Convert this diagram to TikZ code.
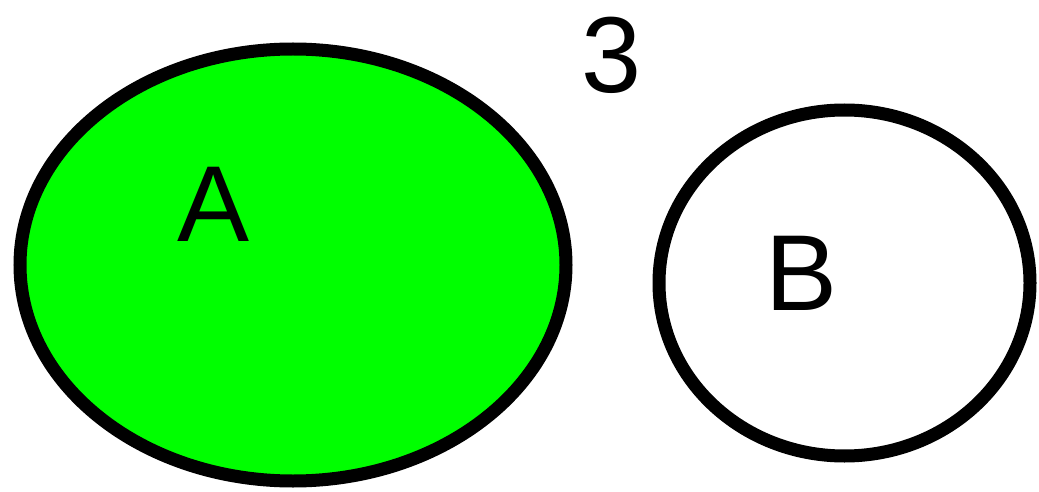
\documentclass[tikz,border=0pt]{standalone}
\usepackage{fontspec}
\setmainfont{Liberation Sans}
\usetikzlibrary{shapes.geometric}
\definecolor{brightgreen}{HTML}{00FF00}
\tikzset{
  setring/.style={ellipse, draw=black, line width=13pt, inner sep=0pt},
  biglabel/.style={inner sep=0pt, font=\fontsize{108}{110}\selectfont}
}
\begin{document}
\begin{tikzpicture}[x=1pt,y=-1pt]
\useasboundingbox[fill=white] (0,0) rectangle (1039,492);
\node[setring, fill=brightgreen, minimum width=546pt, minimum height=432pt] (setA) at (293,265) {};
\node[setring, fill=white, minimum width=371pt, minimum height=346pt] (setB) at (844.5,283) {};
\node[biglabel] (labA) at (214,204) {A};
\node[biglabel] (labB) at (802,273) {B};
\node[biglabel] (lab3) at (612,55) {3};
\end{tikzpicture}
\end{document}
